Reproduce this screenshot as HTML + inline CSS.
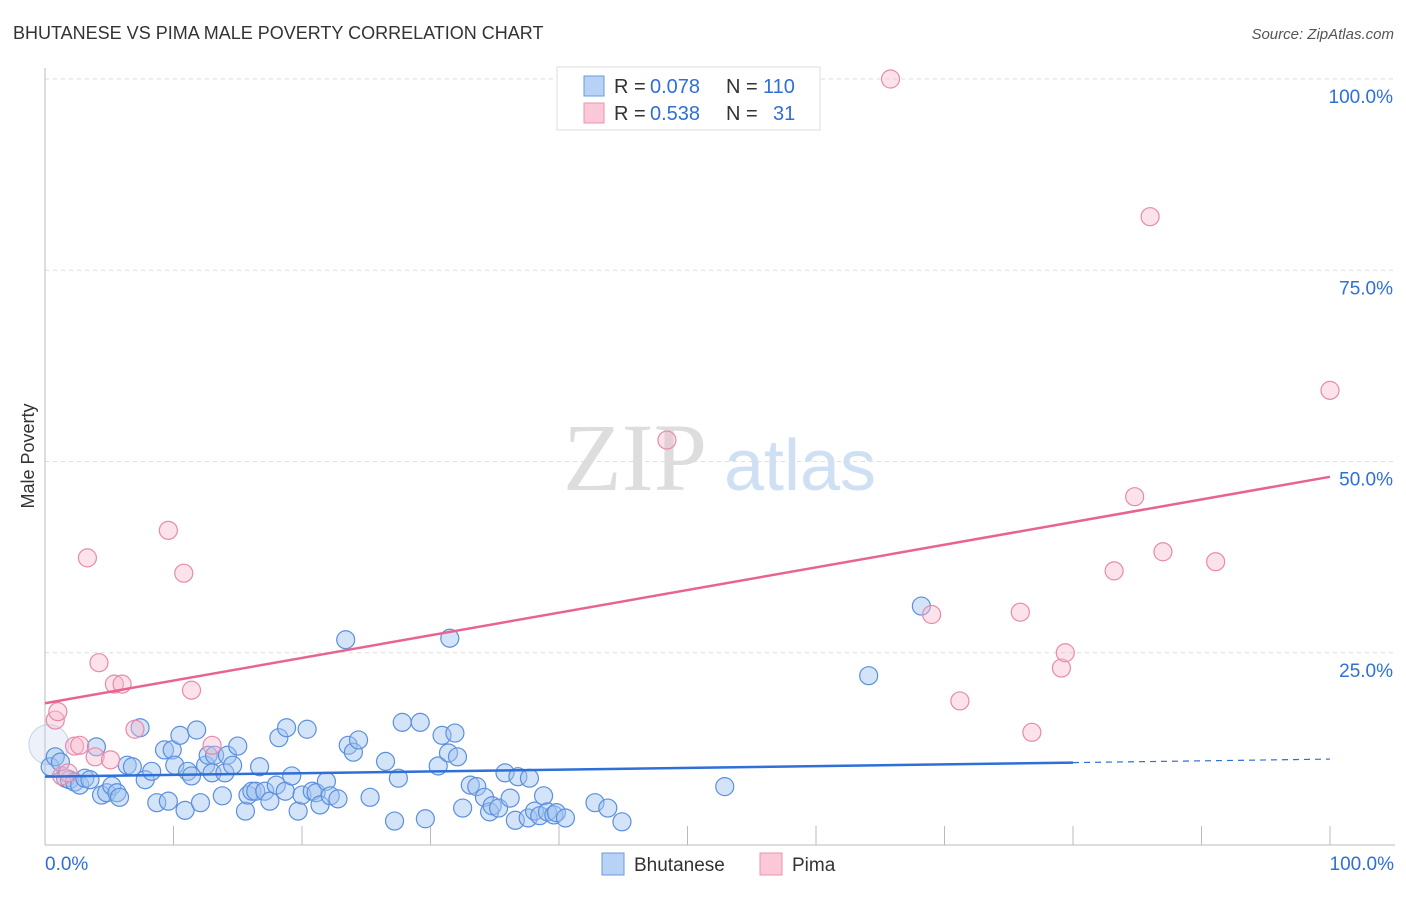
<!DOCTYPE html>
<html><head><meta charset="utf-8"><style>
body{margin:0;background:#fff;font-family:"Liberation Sans",sans-serif;}
svg text{font-family:"Liberation Sans",sans-serif;}
</style></head><body>
<svg id="chart" width="1406" height="892">
<text x="13" y="39" font-size="18" fill="#333">BHUTANESE VS PIMA MALE POVERTY CORRELATION CHART</text>
<text x="1394" y="39" font-size="15" fill="#555" font-style="italic" text-anchor="end">Source: ZipAtlas.com</text>
<text x="34" y="456" font-size="18" fill="#333" transform="rotate(-90 34 456)" text-anchor="middle">Male Poverty</text>
<g><text x="635" y="490" font-size="96" fill="#ddd" text-anchor="middle" style="font-family:'Liberation Serif',serif">ZIP</text><text x="800" y="490" font-size="72" fill="#cfe0f5" text-anchor="middle">atlas</text></g>
<g id="grid"></g><g id="marks"></g><g id="lines"></g>
<g>
<rect x="557" y="67" width="263" height="63" fill="#fff" stroke="#ddd"/>
<rect x="584" y="76" width="20" height="20" fill="#b8d2f5" stroke="#6a9ae0"/>
<rect x="584" y="103" width="20" height="20" fill="#fbc8d8" stroke="#e895b0"/>
<text y="93" font-size="20" fill="#333"><tspan x="614">R =</tspan><tspan x="650" fill="#2e6fd8">0.078</tspan><tspan x="726">N =</tspan><tspan x="763" fill="#2e6fd8">110</tspan></text>
<text y="120" font-size="20" fill="#333"><tspan x="614">R =</tspan><tspan x="650" fill="#2e6fd8">0.538</tspan><tspan x="726">N =</tspan><tspan x="773" fill="#2e6fd8">31</tspan></text>
</g>
<g>
<rect x="602" y="853" width="22" height="22" fill="#b8d2f5" stroke="#6a9ae0"/>
<text x="634" y="871" font-size="19" fill="#333">Bhutanese</text>
<rect x="760" y="853" width="22" height="22" fill="#fbc8d8" stroke="#e895b0"/>
<text x="792" y="871" font-size="19" fill="#333">Pima</text>
</g>
</svg>
<script>
const blueX=[0.4,0.8,1.2,1.6,1.9,2.3,2.7,3.1,3.5,4.0,4.4,4.8,5.2,5.6,5.8,6.4,6.8,7.4,7.8,8.3,8.7,9.3,9.6,9.9,10.1,10.5,10.9,11.1,11.4,11.8,12.1,12.5,12.7,13.0,13.2,13.8,14.0,14.2,14.6,15.0,15.6,15.8,16.1,16.4,16.7,17.1,17.5,18.0,18.2,18.7,18.8,19.2,19.7,20.0,20.4,20.8,21.1,21.4,21.9,22.2,22.8,23.4,23.6,24.0,24.4,25.3,26.5,27.2,27.5,27.8,29.2,29.6,30.6,30.9,31.4,31.5,31.9,32.1,32.5,33.1,33.6,34.2,34.6,34.8,35.3,35.8,36.2,36.6,36.8,37.6,37.7,38.1,38.5,38.8,39.1,39.6,39.8,40.5,42.8,43.8,44.9,52.9,64.1,68.2];
const blueY=[10.1,11.4,10.7,8.6,8.4,8.1,7.7,8.6,8.4,12.7,6.4,6.7,7.6,6.7,6.1,10.3,10.1,15.2,8.4,9.5,5.4,12.3,5.6,12.3,10.3,14.2,4.4,9.5,8.9,14.9,5.4,10.3,11.6,9.3,11.6,6.3,9.3,11.6,10.3,12.8,4.3,6.4,6.9,6.9,10.1,6.9,5.6,7.7,13.9,6.9,15.2,8.9,4.3,6.4,15.0,6.9,6.7,5.1,8.2,6.3,5.9,26.7,12.9,12.0,13.6,6.1,10.8,3.0,8.6,15.9,15.9,3.3,10.2,14.2,11.9,26.9,14.5,11.4,4.7,7.7,7.5,6.1,4.2,5.0,4.7,9.3,6.0,3.1,8.8,3.4,8.6,4.3,3.7,6.3,4.2,3.8,4.1,3.4,5.4,4.7,2.9,7.5,22.0,31.1];
const pinkX=[0.8,1.0,1.3,1.8,2.3,2.7,3.3,3.9,4.2,5.1,5.4,6.0,7.0,9.6,10.8,11.4,13.0,48.4,65.8,69.0,71.2,75.9,76.8,79.1,79.4,83.2,84.8,86.0,87.0,91.1,100];
const pinkY=[16.2,17.3,8.9,9.3,12.8,12.9,37.4,11.4,23.7,11.0,20.9,20.9,15.0,41.0,35.4,20.1,12.9,52.8,100,30.0,18.7,30.3,14.6,23.0,25.0,35.7,45.4,82.0,38.2,36.9,59.3];
const blueFit=[8.8,11.1], pinkFit=[18.4,48.0];
const yTicks=[25,50,75,100];
const xTicks=[0,10,20,30,40,50,60,70,80,90,100];
const NS="http://www.w3.org/2000/svg";
const X=v=>45+v*12.85, Y=v=>844-v*7.65;
function mk(t,a,p){const e=document.createElementNS(NS,t);for(const k in a)e.setAttribute(k,a[k]);p.appendChild(e);return e;}
const grid=document.getElementById('grid'),marks=document.getElementById('marks'),lines=document.getElementById('lines');
yTicks.forEach(v=>{const l=mk('line',{x1:45,x2:1395,y1:Y(v),y2:Y(v),stroke:'#ddd','stroke-dasharray':'4,4'},grid);


const t=mk('text',{x:1393,y:Y(v)+24,'font-size':19,fill:'#2e6fd8','text-anchor':'end'},grid);t.textContent=v.toFixed(1)+'%';

});
mk('line',{x1:45,x2:45,y1:68,y2:845,stroke:'#bbb'},grid);
mk('line',{x1:45,x2:1395,y1:845,y2:845,stroke:'#bbb'},grid);
xTicks.forEach(v=>{if(v>0)mk('line',{x1:X(v),x2:X(v),y1:826,y2:845,stroke:'#bbb'},grid);});
let t0=mk('text',{x:45,y:870,'font-size':19,fill:'#2e6fd8'},grid);t0.textContent='0.0%';


let t1=mk('text',{x:1394,y:870,'font-size':19,fill:'#2e6fd8','text-anchor':'end'},grid);t1.textContent='100.0%';


let big=mk('circle',{cx:X(0.3),cy:Y(13),r:20,fill:'rgba(200,215,240,0.35)',stroke:'rgba(150,170,220,0.5)'},marks);


blueX.forEach((x,i)=>{const c=mk('circle',{cx:X(x),cy:Y(blueY[i]),r:9,fill:'rgba(160,196,240,0.45)',stroke:'#5b8fde','stroke-width':1.2},marks);

});
pinkX.forEach((x,i)=>{const c=mk('circle',{cx:X(x),cy:Y(pinkY[i]),r:9,fill:'rgba(248,185,205,0.4)',stroke:'#e88aa8','stroke-width':1.2},marks);

});
const bAt=v=>blueFit[0]+(blueFit[1]-blueFit[0])*v/100;
let bl=mk('line',{x1:X(0),y1:Y(bAt(0)),x2:X(80),y2:Y(bAt(80)),stroke:'#2e6fd8','stroke-width':2.5},lines);


let bd=mk('line',{x1:X(80),y1:Y(bAt(80)),x2:X(100),y2:Y(bAt(100)),stroke:'#2e6fd8','stroke-width':1.2,'stroke-dasharray':'6,5'},lines);


let pl=mk('line',{x1:X(0),y1:Y(pinkFit[0]),x2:X(100),y2:Y(pinkFit[1]),stroke:'#e8648f','stroke-width':2.5},lines);


</script>
</body></html>
